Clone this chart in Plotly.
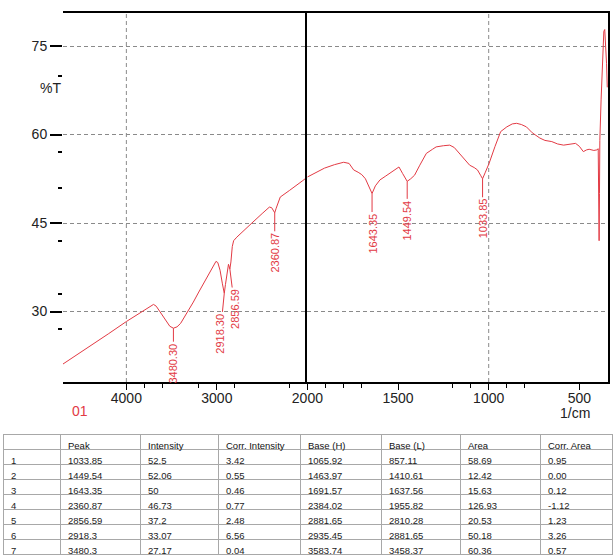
import plotly.graph_objects as go

# FTIR trace: wavenumber (1/cm) and transmittance (%T) between the labelled bands
spectrum_wn = [4700, 4550, 4400, 4200, 4000, 3900, 3800, 3750, 3700, 3670, 3620, 3560, 3520,
               3440, 3400, 3330, 3260, 3200, 3130, 3070, 3030, 3010, 2990, 2965, 2940,
               2905, 2890, 2872, 2845, 2830, 2815, 2780, 2700, 2613, 2500, 2420, 2395, 2375,
               2345, 2320, 2300, 2200, 2115, 2050, 2000, 1950, 1906, 1850, 1800, 1770, 1745,
               1720, 1700, 1680, 1660, 1625, 1600, 1571, 1540, 1510, 1495, 1475, 1430, 1409,
               1380, 1344, 1310, 1290, 1250, 1215, 1190, 1171, 1140, 1105, 1080, 1062, 1045,
               1020, 998, 965, 934, 900, 870, 846, 820, 792, 760, 718, 690, 652, 620, 587,
               550, 521, 500, 478, 460, 446, 420, 403, 396, 393, 391, 389, 387, 380, 372,
               365, 360, 356, 350, 346]
spectrum_t = [21.1, 22.6, 24.2, 26.2, 28.3, 29.3, 30.2, 30.8, 31.2, 30.9, 29.7, 28.3, 27.5,
              27.4, 28.0, 29.7, 31.6, 33.3, 35.2, 36.9, 38.0, 38.5, 38.3, 37.0, 34.8,
              34.6, 36.3, 38.0, 38.4, 41.0, 42.0, 42.6, 43.8, 45.0, 46.6, 47.7, 47.6, 47.0,
              47.5, 48.8, 49.4, 50.5, 51.4, 52.2, 52.8, 53.6, 54.3, 54.9, 55.3, 55.1, 54.0,
              53.6, 53.2, 52.5, 51.0, 51.3, 52.3, 52.9, 53.5, 54.2, 54.5, 53.4, 52.5, 53.1,
              54.8, 56.8, 57.5, 57.9, 58.1, 58.2, 57.8, 57.1, 56.0, 54.8, 54.4, 54.0, 53.1,
              53.5, 55.1, 58.0, 60.5, 61.3, 61.8, 61.9, 61.7, 61.3, 60.3, 59.4, 59.0, 58.8,
              58.4, 58.2, 58.3, 58.5, 58.0, 57.1, 57.4, 57.5, 57.3, 57.4, 57.6, 50.0, 42.0,
              50.0, 59.0, 66.0, 72.0, 77.5, 77.8, 76.0, 72.0, 68.0]

# Peak table
row_no = [1, 2, 3, 4, 5, 6, 7]
peak_wn = [1033.85, 1449.54, 1643.35, 2360.87, 2856.59, 2918.3, 3480.3]
peak_int = [52.5, 52.06, 50, 46.73, 37.2, 33.07, 27.17]
corr_int = [3.42, 0.55, 0.46, 0.77, 2.48, 6.56, 0.04]
base_h = [1065.92, 1463.97, 1691.57, 2384.02, 2881.65, 2935.45, 3583.74]
base_l = [857.11, 1410.61, 1637.56, 1955.82, 2810.28, 2881.65, 3458.37]
area = [58.69, 12.42, 15.63, 126.93, 20.53, 50.18, 60.36]
corr_area = [0.95, 0.00, 0.12, -1.12, 1.23, 3.26, 0.57]

x_left_ticks = [4000, 3000]
x_right_ticks = [2000, 1500, 1000, 500]
y_ticks = [75, 60, 45, 30]
y_minor_ticks = [70, 57, 51, 42, 33, 27]

W, H = 614, 558
FONT = "Liberation Sans, Arial, sans-serif"
RED = "#e23a44"
GRID = "#8a8a8a"

# merge the peak minima into the trace
pts = sorted(zip(spectrum_wn + peak_wn, spectrum_t + peak_int), key=lambda p: -p[0])
left = [p for p in pts if p[0] >= 2000]
right = [p for p in pts if p[0] <= 2000]

fig = go.Figure()
fig.add_trace(go.Scatter(x=[p[0] for p in left], y=[p[1] for p in left], mode="lines",
                         line=dict(color=RED, width=1), xaxis="x", yaxis="y",
                         showlegend=False, hoverinfo="skip"))
fig.add_trace(go.Scatter(x=[p[0] for p in right], y=[p[1] for p in right], mode="lines",
                         line=dict(color=RED, width=1), xaxis="x2", yaxis="y2",
                         showlegend=False, hoverinfo="skip"))

x_split = 307.4 / W
y_dom = [1 - 382 / H, 1 - 13 / H]
y_range = [18.05, 80.6]
grid = dict(gridcolor=GRID, griddash="4px,3px", gridwidth=1)
xcommon = dict(ticks="outside", ticklen=6, tickwidth=1.2, tickcolor="black",
               ticklabelstandoff=-4, tickfont=dict(size=14),
               showgrid=False, zeroline=False, automargin=False,
               showline=True, linecolor="black", linewidth=1.5, mirror=True)

fig.update_layout(
    width=W, height=H, margin=dict(l=0, r=0, t=0, b=0),
    paper_bgcolor="white", plot_bgcolor="white",
    font=dict(family=FONT, size=14, color="#222"),
    xaxis=dict(domain=[63 / W, x_split], range=[4700, 2000], anchor="y",
               tickvals=x_left_ticks, **xcommon,
               minor=dict(tickvals=[3800, 3600, 3200, 2800, 2200], ticks="outside",
                          ticklen=4, tickcolor="black")),
    xaxis2=dict(domain=[x_split, 608 / W], range=[2000, 342], anchor="y2",
                tickvals=x_right_ticks, **xcommon,
                minor=dict(tickvals=[1900, 1800, 1700, 1200, 1100, 900, 800],
                           ticks="outside", ticklen=4, tickcolor="black")),
    yaxis=dict(domain=y_dom, range=y_range, anchor="x", automargin=False,
               tickvals=y_ticks, ticks="outside", ticklen=12, tickwidth=1.5,
               tickcolor="black", showline=False, zeroline=False, **grid,
               minor=dict(tickvals=y_minor_ticks, ticks="outside",
                          ticklen=4, tickcolor="black")),
    yaxis2=dict(domain=y_dom, range=y_range, anchor="x2", automargin=False,
                tickvals=y_ticks, showticklabels=False, ticks="", zeroline=False, **grid,
                showline=True, linecolor="black", linewidth=1.5, mirror=True),
)

# dashed vertical grid lines
fig.add_shape(type="line", xref="x", yref="y domain", x0=4000, x1=4000, y0=0, y1=1,
              line=dict(color=GRID, width=1, dash="4px,3px"), layer="below")
fig.add_shape(type="line", xref="x2", yref="y2 domain", x0=1000, x1=1000, y0=0, y1=1,
              line=dict(color=GRID, width=1, dash="4px,3px"), layer="below")

# peak labels hanging below each band: (drop in px, sideways nudge in px)
label_pos = {1033.85: (40, 0), 1449.54: (39, 0), 1643.35: (40, 0), 2360.87: (40, 0),
             2856.59: (40, 5), 2918.3: (40, -4), 3480.3: (35, 0)}
for wn, t in zip(peak_wn, peak_int):
    on_left = wn > 2000
    drop, nudge = label_pos[wn]
    fig.add_annotation(x=wn, y=t, xref="x" if on_left else "x2",
                       yref="y" if on_left else "y2",
                       text=f"{wn:.2f}", textangle=-90, showarrow=True, arrowhead=0,
                       arrowwidth=1, arrowcolor=RED, ax=nudge, ay=drop,
                       font=dict(size=11, color=RED, family=FONT))

fig.add_annotation(x=38 / W, y=1 - 78 / H, xref="paper", yref="paper", text="%T",
                   showarrow=False, font=dict(size=14, color="#222"))
fig.add_annotation(x=70 / W, y=1 - 421 / H, xref="paper", yref="paper", text="01",
                   showarrow=False, font=dict(size=14, color=RED))
fig.add_annotation(x=592 / W, y=1 - 423 / H, xref="paper", yref="paper", text="1/cm",
                   showarrow=False, font=dict(size=14, color="#222"))

# peak table
fig.add_trace(go.Table(
    domain=dict(x=[3 / W, 612 / W], y=[0, 1 - 434 / H]),
    columnwidth=[57, 80, 78, 82, 81, 79, 80, 72],
    header=dict(values=["", "Peak", "Intensity", "Corr. Intensity", "Base (H)",
                        "Base (L)", "Area", "Corr. Area"],
                align="left", height=15, fill_color="white",
                line=dict(color="#a8a8a8", width=1),
                font=dict(size=9.5, color="#111", family=FONT)),
    cells=dict(values=[row_no, peak_wn, peak_int, corr_int, base_h, base_l, area,
                       [f"{v:.2f}" for v in corr_area]],
               align="left", height=15, fill_color="white",
               line=dict(color="#a8a8a8", width=1),
               font=dict(size=9.5, color="#222", family=FONT)),
))

fig.write_html("out.html")
